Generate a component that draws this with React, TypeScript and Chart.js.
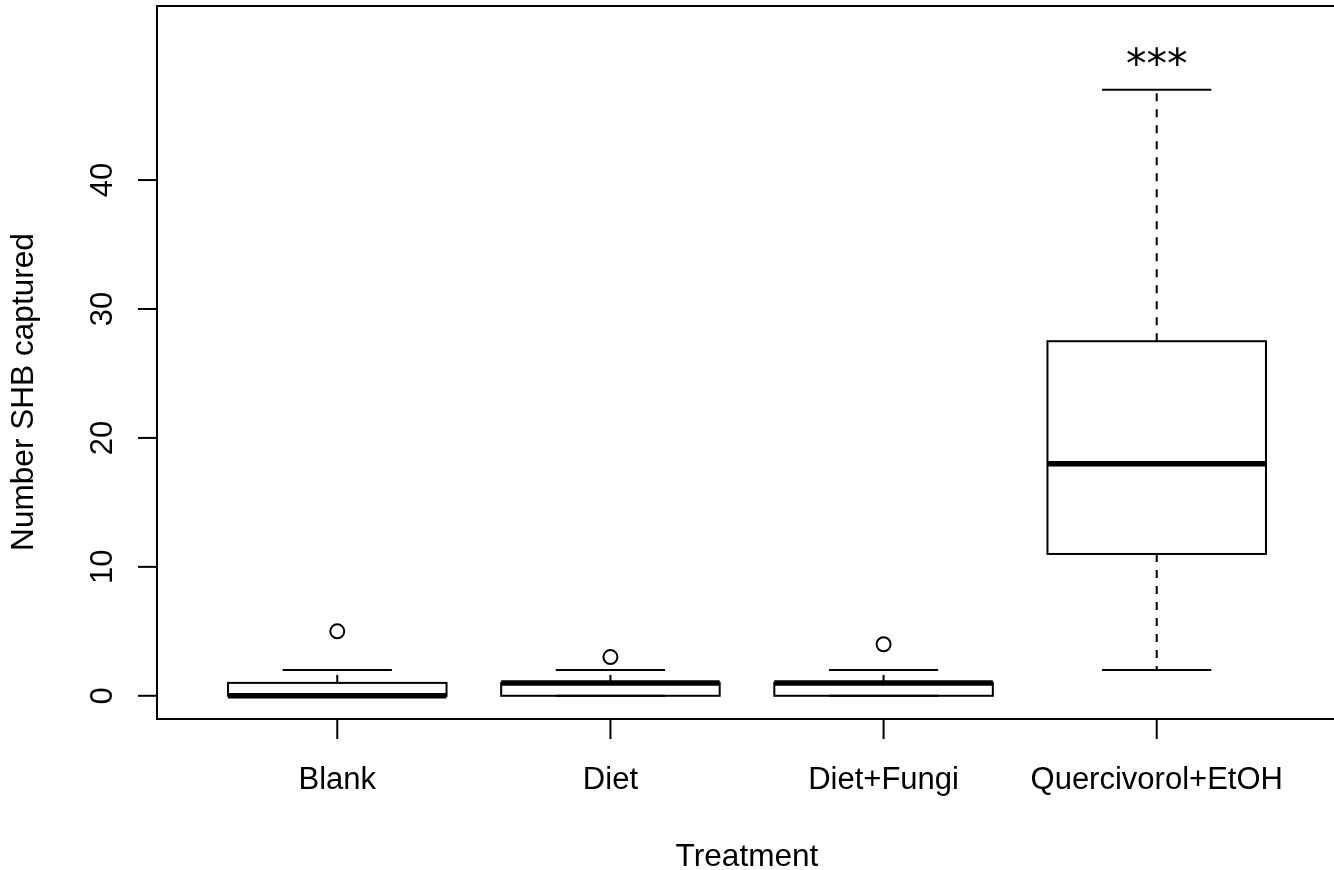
import { useEffect, useRef } from "react";
import { Chart, registerables } from "chart.js";

Chart.register(...registerables);

// Treatment groups and their box-and-whisker summaries (beetles captured per trap)
const categories = ["Blank", "Diet", "Diet+Fungi", "Quercivorol+EtOH"];
const whiskerLow = [0, 0, 0, 2];
const quartile1 = [0, 0, 0, 11];
const medians = [0, 1, 1, 18];
const quartile3 = [1, 1, 1, 27.5];
const whiskerHigh = [2, 2, 2, 47];
const outliers: number[][] = [[5], [3], [4], []];
const significance = ["", "", "", "***"];

const yTicks = [0, 10, 20, 30, 40];
const xTitle = "Treatment";
const yTitle = "Number SHB captured";

const FONT = '"Liberation Sans", Arial, Helvetica, sans-serif';

const boxplotPlugin = {
  id: "baseBoxplot",
  beforeDatasetsDraw(chart: any) {
    const { ctx, scales } = chart;
    const x = scales.x;
    const y = scales.y;
    const unit = x.getPixelForValue(2) - x.getPixelForValue(1);
    const half = unit * 0.4;
    const capHalf = half / 2;
    ctx.save();
    ctx.strokeStyle = "#000";
    ctx.lineCap = "butt";
    categories.forEach((_, i) => {
      const cx = x.getPixelForValue(i + 1);
      const yLo = y.getPixelForValue(whiskerLow[i]);
      const yQ1 = y.getPixelForValue(quartile1[i]);
      const yMed = y.getPixelForValue(medians[i]);
      const yQ3 = y.getPixelForValue(quartile3[i]);
      const yHi = y.getPixelForValue(whiskerHigh[i]);

      // dashed whiskers
      ctx.lineWidth = 2;
      ctx.setLineDash([8, 8]);
      ctx.beginPath();
      ctx.moveTo(cx, yQ3);
      ctx.lineTo(cx, yHi);
      ctx.moveTo(cx, yQ1);
      ctx.lineTo(cx, yLo);
      ctx.stroke();
      ctx.setLineDash([]);

      // staples
      ctx.beginPath();
      ctx.moveTo(cx - capHalf, yHi);
      ctx.lineTo(cx + capHalf, yHi);
      ctx.moveTo(cx - capHalf, yLo);
      ctx.lineTo(cx + capHalf, yLo);
      ctx.stroke();

      // box
      ctx.strokeRect(cx - half, yQ3, half * 2, yQ1 - yQ3);

      // median
      ctx.lineWidth = 5.5;
      ctx.beginPath();
      ctx.moveTo(cx - half, yMed);
      ctx.lineTo(cx + half, yMed);
      ctx.stroke();
    });
    ctx.restore();
  },
  afterDatasetsDraw(chart: any) {
    const { ctx, scales, chartArea } = chart;
    const x = scales.x;
    const y = scales.y;
    const { left, top, right, bottom } = chartArea;
    ctx.save();
    ctx.strokeStyle = "#000";
    ctx.fillStyle = "#000";
    ctx.lineWidth = 2;

    // frame
    ctx.strokeRect(left, top, right - left, bottom - top);

    // x axis ticks and labels
    ctx.font = `31px ${FONT}`;
    ctx.textAlign = "center";
    ctx.textBaseline = "alphabetic";
    categories.forEach((label, i) => {
      const px = x.getPixelForValue(i + 1);
      ctx.beginPath();
      ctx.moveTo(px, bottom);
      ctx.lineTo(px, bottom + 20);
      ctx.stroke();
      ctx.fillText(label, px, bottom + 70);
    });

    // y axis ticks and rotated labels
    y.ticks.forEach((t: any) => {
      const py = y.getPixelForValue(t.value);
      ctx.beginPath();
      ctx.moveTo(left, py);
      ctx.lineTo(left - 19, py);
      ctx.stroke();
      ctx.save();
      ctx.translate(left - 45, py);
      ctx.rotate(-Math.PI / 2);
      ctx.fillText(String(t.value), 0, 0);
      ctx.restore();
    });

    // axis titles
    ctx.font = `31.6px ${FONT}`;
    ctx.fillText(xTitle, (left + right) / 2, bottom + 147);
    ctx.save();
    ctx.translate(33, 392);
    ctx.rotate(-Math.PI / 2);
    ctx.fillText(yTitle, 0, 0);
    ctx.restore();

    // significance marks above the upper whiskers
    ctx.font = `41px "DejaVu Sans", ${FONT}`;
    significance.forEach((s, i) => {
      if (!s) return;
      const px = x.getPixelForValue(i + 1);
      const py = y.getPixelForValue(whiskerHigh[i]);
      ctx.fillText(s, px, py - 12);
    });

    ctx.restore();
  },
};

export default function App() {
  const canvasRef = useRef<HTMLCanvasElement | null>(null);

  useEffect(() => {
    const canvas = canvasRef.current;
    if (!canvas) return;
    const outlierPoints = outliers.flatMap((vals, i) =>
      vals.map((v) => ({ x: i + 1, y: v }))
    );
    const chart = new Chart(canvas, {
      type: "scatter",
      data: {
        datasets: [
          {
            label: "outliers",
            data: outlierPoints,
            pointRadius: 7,
            pointBorderWidth: 2,
            pointBorderColor: "#000",
            pointBackgroundColor: "rgba(0,0,0,0)",
            pointHoverRadius: 7,
            showLine: false,
          },
        ],
      },
      options: {
        responsive: false,
        devicePixelRatio: 1,
        animation: false,
        events: [],
        layout: { autoPadding: false, padding: { top: 6, right: 3, left: 0, bottom: 0 } },
        plugins: {
          legend: { display: false },
          tooltip: { enabled: false },
        },
        scales: {
          x: {
            type: "linear",
            min: 0.34,
            max: 4.66,
            grid: { display: false },
            border: { display: false },
            ticks: { display: false },
            afterFit: (s: any) => {
              s.height = 151;
            },
          },
          y: {
            type: "linear",
            min: -1.8,
            max: 53.5,
            grid: { display: false },
            border: { display: false },
            ticks: { display: false },
            afterFit: (s: any) => {
              s.width = 157;
            },
            afterBuildTicks: (s: any) => {
              s.ticks = yTicks.map((v) => ({ value: v }));
            },
          },
        },
      },
      plugins: [boxplotPlugin],
    });
    return () => chart.destroy();
  }, []);

  return (
    <div
      style={{
        position: "fixed",
        left: 0,
        top: 0,
        width: 1334,
        height: 870,
        overflow: "hidden",
        background: "#fff",
      }}
    >
      <canvas ref={canvasRef} width={1340} height={870} style={{ display: "block" }} />
    </div>
  );
}
